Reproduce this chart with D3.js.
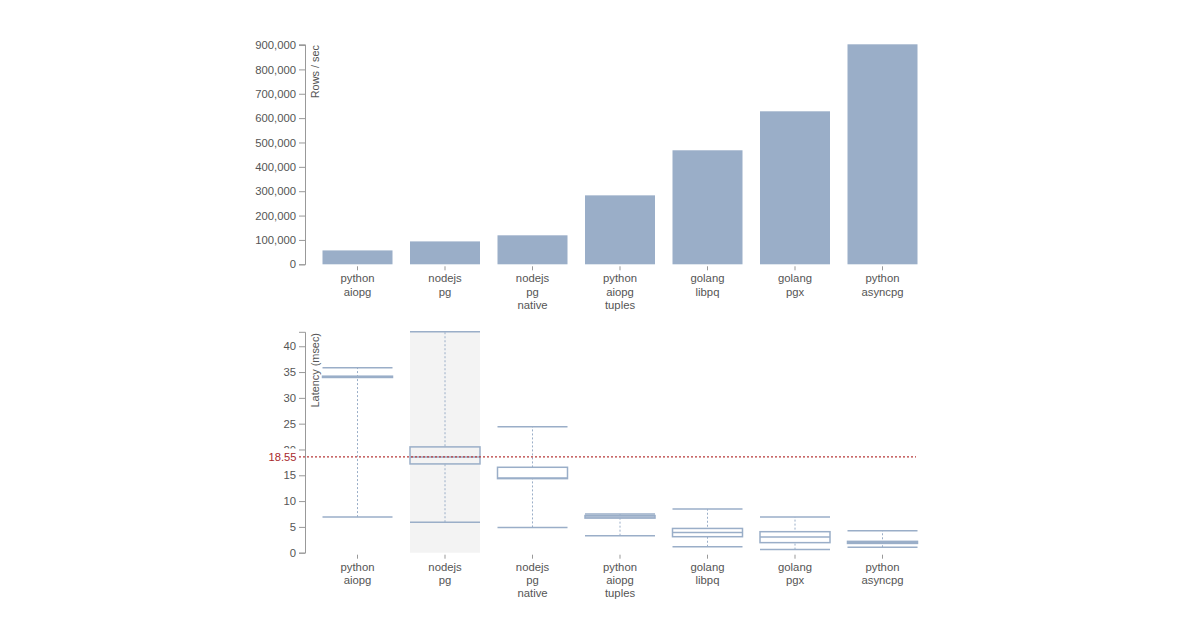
<!DOCTYPE html>
<html><head><meta charset="utf-8">
<script src="https://cdn.jsdelivr.net/npm/d3@7"></script>
<style>
body{margin:0;background:#fff;}
text{font-family:"Liberation Sans",Arial,sans-serif;}
</style></head>
<body><svg id="c" width="1200" height="624"></svg>
<script>
const categories = [["python","aiopg"],["nodejs","pg"],["nodejs","pg","native"],["python","aiopg","tuples"],["golang","libpq"],["golang","pgx"],["python","asyncpg"]];
const rowsPerSec = [57000, 94000, 119000, 283000, 468000, 628000, 903000];
const rowsTicks = [0,100000,200000,300000,400000,500000,600000,700000,800000,900000];
// latency box stats
const latLow    = [6.9, 5.9, 4.9, 3.3, 1.15, 0.6, 1.05];
const latQ1     = [33.95, 17.2, 14.35, 6.7, 3.1, 1.95, 1.8];
const latMedian = [34.05, 18.55, 14.45, 6.9, 3.9, 3.05, 2.0];
const latQ3     = [34.2, 20.5, 16.55, 7.2, 4.7, 4.07, 2.2];
const latHigh   = [35.85, 42.8, 24.4, 7.5, 8.45, 6.9, 4.27];
const latTicks = [0,5,10,15,20,25,30,35,40];
const refLatency = 18.55;
const highlighted = 1;

const svg = d3.select("#c");
const textColor = "#555";
const axisColor = "#999";
const barColor = "#9aaec8";
const boxColor = "#9aaec8";
const fs = 11.3;
const keys = categories.map((c,i)=>i);

const x = d3.scaleBand().domain(keys).range([305,935]).paddingInner(0.2).paddingOuter(0.2);

function styleAxis(g){
  g.selectAll("path").attr("stroke",axisColor);
  g.selectAll("line").attr("stroke",axisColor);
  g.selectAll("text").attr("fill",textColor).attr("font-size",fs);
}
function xLabels(g, y0){
  const gg = g.append("g");
  keys.forEach(i=>{
    const cx = x(i)+x.bandwidth()/2;
    gg.append("line").attr("x1",cx).attr("x2",cx).attr("y1",y0+2).attr("y2",y0+6).attr("stroke",axisColor);
    const t = gg.append("text").attr("x",cx).attr("y",y0+18).attr("text-anchor","middle")
      .attr("fill",textColor).attr("font-size",fs);
    categories[i].forEach((s,j)=>t.append("tspan").attr("x",cx).attr("dy", j===0?0:13.3).text(s));
  });
}

// Top chart
const y1 = d3.scaleLinear().domain([0, d3.max(rowsPerSec)]).range([264.3, 44.3]);
const gTop = svg.append("g");
gTop.selectAll("rect").data(rowsPerSec).join("rect")
  .attr("x",(d,i)=>x(i)).attr("width",x.bandwidth())
  .attr("y",d=>y1(d)).attr("height",d=>y1(0)-y1(d)).attr("fill",barColor);
gTop.append("g").attr("transform","translate(305,0)")
  .call(d3.axisLeft(y1).tickValues(rowsTicks).tickFormat(d3.format(",")))
  .call(styleAxis);
gTop.append("text").attr("transform","translate(318.5,45) rotate(-90)").attr("text-anchor","end")
  .attr("fill",textColor).attr("font-size",10.9).text("Rows / sec");
xLabels(gTop, y1(0));

// Bottom chart
const y2 = d3.scaleLinear().domain([0, d3.max(latHigh)]).range([552.7, 331.8]);
const gBot = svg.append("g");
gBot.append("rect").attr("x",x(highlighted)).attr("width",x.bandwidth())
  .attr("y",y2.range()[1]).attr("height",y2(0)-y2.range()[1]).attr("fill","#f3f3f3");
const boxes = gBot.selectAll("g.box").data(keys).join("g").attr("class","box");
boxes.append("line").attr("x1",i=>x(i)+x.bandwidth()/2).attr("x2",i=>x(i)+x.bandwidth()/2)
  .attr("y1",i=>y2(latLow[i])).attr("y2",i=>y2(latHigh[i]))
  .attr("stroke",boxColor).attr("stroke-width",1).attr("stroke-dasharray","2,2");
["low","high"].forEach(k=>{
  boxes.append("line").attr("x1",i=>x(i)).attr("x2",i=>x(i)+x.bandwidth())
    .attr("y1",i=>y2(k==="low"?latLow[i]:latHigh[i])).attr("y2",i=>y2(k==="low"?latLow[i]:latHigh[i]))
    .attr("stroke",boxColor).attr("stroke-width",1.5);
});
boxes.append("rect").attr("x",i=>x(i)).attr("width",x.bandwidth())
  .attr("y",i=>y2(latQ3[i])).attr("height",i=>Math.max(0,y2(latQ1[i])-y2(latQ3[i])))
  .attr("fill",i=>i===highlighted?"#f3f3f3":"#fff").attr("stroke",boxColor).attr("stroke-width",1.5);
boxes.append("line").attr("x1",i=>x(i)).attr("x2",i=>x(i)+x.bandwidth())
  .attr("y1",i=>y2(latMedian[i])).attr("y2",i=>y2(latMedian[i]))
  .attr("stroke",boxColor).attr("stroke-width",1.5);

gBot.append("g").attr("transform","translate(305,0)")
  .call(d3.axisLeft(y2).tickValues(latTicks))
  .call(styleAxis);
gBot.append("text").attr("transform","translate(318.5,333) rotate(-90)").attr("text-anchor","end")
  .attr("fill",textColor).attr("font-size",10.9).text("Latency (msec)");
xLabels(gBot, y2(0));

// reference line
const ry = y2(refLatency);
gBot.append("rect").attr("x",262).attr("y",ry-8.5).attr("width",36).attr("height",15).attr("fill","#fff");
gBot.append("text").attr("x",296.5).attr("y",ry+4).attr("text-anchor","end")
  .attr("fill","#a8282c").attr("font-size",11.2).attr("font-weight",500).text(refLatency.toFixed(2));
gBot.append("line").attr("x1",299).attr("x2",916).attr("y1",ry).attr("y2",ry)
  .attr("stroke","#b83a3a").attr("stroke-width",1.2).attr("stroke-dasharray","2,2");
</script></body></html>
